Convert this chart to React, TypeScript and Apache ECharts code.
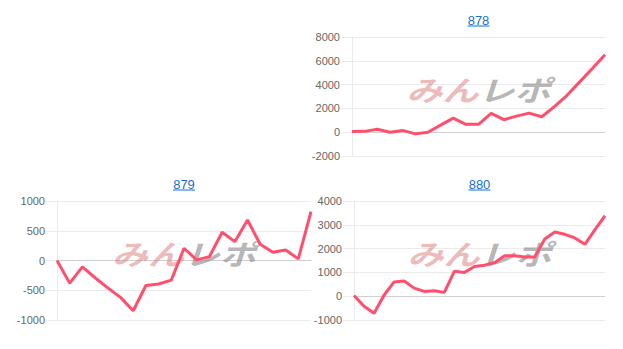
import React, { useEffect, useRef } from "react";
import * as echarts from "echarts";

const days21 = ["1","2","3","4","5","6","7","8","9","10","11","12","13","14","15","16","17","18","19","20","21"];
const days26 = ["1","2","3","4","5","6","7","8","9","10","11","12","13","14","15","16","17","18","19","20","21","22","23","24","25","26"];

const titles = ["878", "879", "880"];

const values878 = [50, 70, 250, 0, 150, -140, 0, 590, 1180, 660, 660, 1580, 1050, 1350, 1600, 1300, 2150, 3100, 4230, 5360, 6500];
const values879 = [0, -380, -107, -290, -460, -620, -845, -420, -395, -330, 206, 10, 65, 474, 317, 680, 272, 138, 178, 27, 820];
const values880 = [30, -420, -720, 50, 600, 640, 340, 200, 230, 160, 1050, 1000, 1250, 1300, 1410, 1700, 1700, 1650, 1650, 2400, 2700, 2600, 2450, 2180, 2800, 3380];

const yRange878 = [-2000, 8000, 2000];
const yRange879 = [-1000, 1000, 500];
const yRange880 = [-1000, 4000, 1000];

const LINE = "#ff4f6d";
const GRID = "#ebebeb";
const ZERO = "#cfcfcf";
const LABEL = "#666666";

export default function App() {
  const ref = useRef<HTMLDivElement>(null);
  useEffect(() => {
    document.body.style.margin = "0";
    if (!ref.current) return;
    const chart = echarts.init(ref.current, null, { renderer: "svg" });

    const grids = [
      { left: 352, top: 37, width: 253, height: 119 },
      { left: 57, top: 201, width: 254, height: 119 },
      { left: 354, top: 201, width: 251, height: 119 },
    ];
    const ranges = [yRange878, yRange879, yRange880];
    const cats = [days21, days21, days26];
    const vals = [values878, values879, values880];

    const xAxis = grids.map((_, i) => ({
      type: "category" as const,
      gridIndex: i,
      data: cats[i],
      boundaryGap: false,
      axisLabel: { show: false },
      axisTick: { show: false },
      axisLine: { show: true, onZero: true, lineStyle: { color: ZERO, width: 1 } },
      splitLine: { show: false },
    }));
    const yAxis = grids.map((_, i) => ({
      type: "value" as const,
      gridIndex: i,
      min: ranges[i][0],
      max: ranges[i][1],
      interval: ranges[i][2],
      axisLine: { show: true, lineStyle: { color: GRID } },
      axisTick: { show: true, length: 11, lineStyle: { color: GRID } },
      axisLabel: {
        color: LABEL,
        fontSize: 11,
        margin: 12,
        fontFamily: "Arial, 'Liberation Sans', sans-serif",
        formatter: (v: number) => String(v),
      },
      splitLine: { show: true, lineStyle: { color: GRID, width: 1 } },
    }));
    const series = grids.map((_, i) => ({
      type: "line" as const,
      xAxisIndex: i,
      yAxisIndex: i,
      data: vals[i],
      showSymbol: false,
      symbol: "none",
      lineStyle: { color: LINE, width: 3 },
      z: 5,
    }));

    const graphic: any[] = [];
    grids.forEach((g, i) => {
      const cx = g.left + g.width / 2;
      const titleY = g.top - 17;
      graphic.push({
        type: "text",
        x: cx,
        y: titleY,
        style: {
          text: titles[i],
          fill: "#1a6fd0",
          font: "13px Arial, 'Liberation Sans', sans-serif",
          textAlign: "center",
          textVerticalAlign: "middle",
        },
      });
      graphic.push({
        type: "line",
        shape: { x1: cx - 11, y1: titleY + 6, x2: cx + 11, y2: titleY + 6 },
        style: { stroke: "#1a6fd0", lineWidth: 1 },
      });
      const wy = g.top + g.height / 2 - 8;
      graphic.push({
        type: "text",
        x: cx - 36,
        y: wy,
        scaleY: 0.78,
        z: 1,
        style: {
          text: "みん",
          fill: "rgba(220,120,120,0.5)",
          font: "italic bold 36px 'Noto Sans CJK JP', sans-serif",
          textAlign: "center",
          textVerticalAlign: "middle",
        },
      });
      graphic.push({
        type: "text",
        x: cx + 36,
        y: wy,
        scaleY: 0.78,
        z: 1,
        style: {
          text: "レポ",
          fill: "rgba(140,140,140,0.65)",
          font: "italic bold 36px 'Noto Sans CJK JP', sans-serif",
          textAlign: "center",
          textVerticalAlign: "middle",
        },
      });
    });

    chart.setOption({
      animation: false,
      grid: grids.map((g) => ({ ...g, containLabel: false })),
      xAxis,
      yAxis,
      series,
      graphic,
    });
    return () => chart.dispose();
  }, []);
  return <div ref={ref} style={{ width: 623, height: 349 }} />;
}
